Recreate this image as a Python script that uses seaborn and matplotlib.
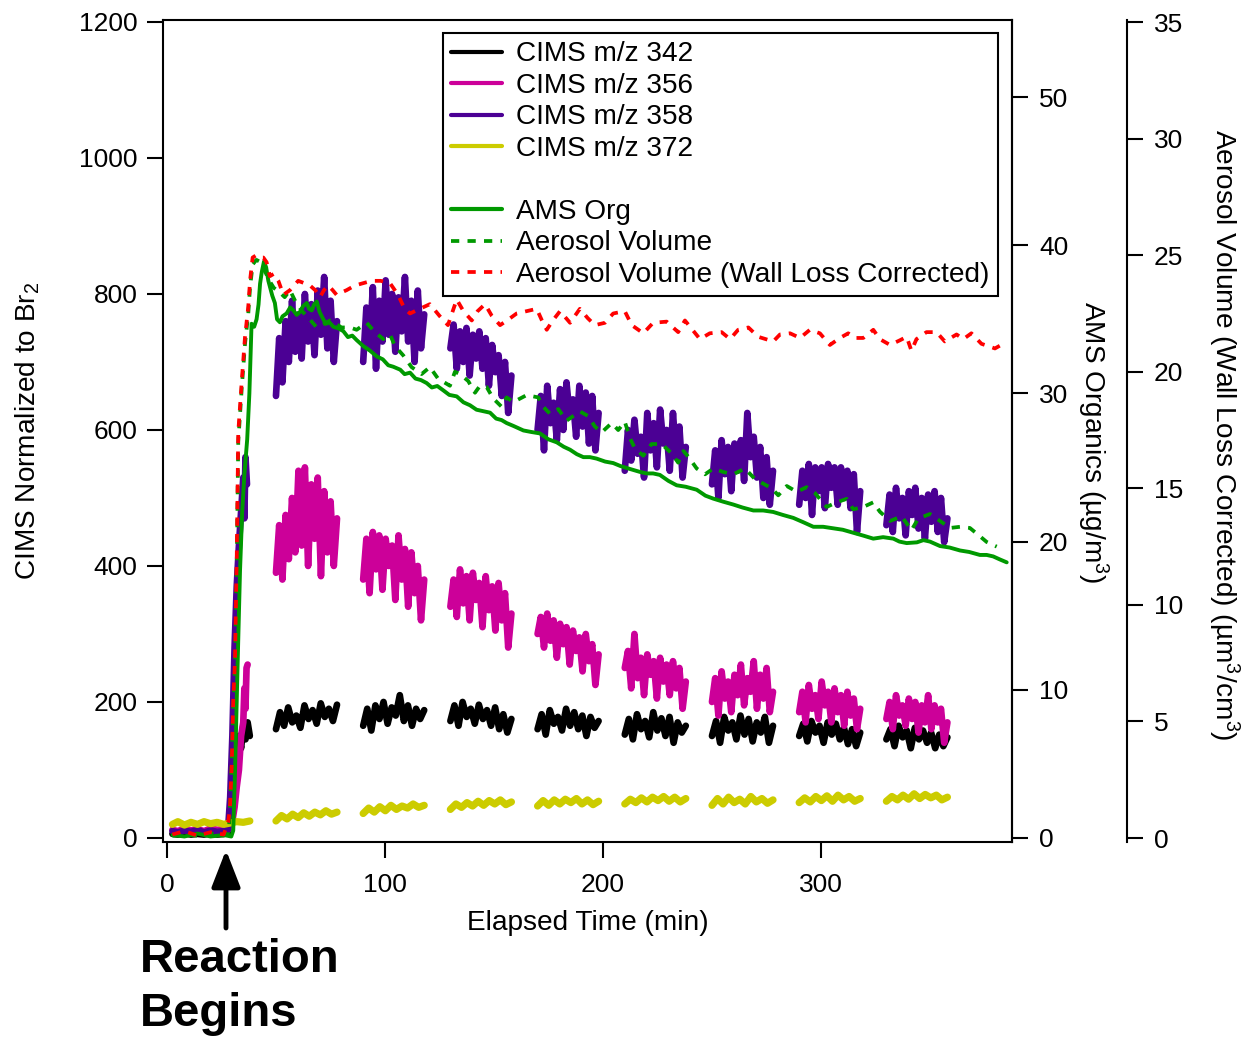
import numpy as np
import pandas as pd
import matplotlib
matplotlib.use("Agg")
import matplotlib.pyplot as plt
from matplotlib.lines import Line2D
import seaborn as sns

# ---------------- data ----------------
series_names = ["CIMS m/z 342", "CIMS m/z 356", "CIMS m/z 358", "CIMS m/z 372"]
seg_starts = [50, 90, 130, 170, 210, 250, 290, 330]
seg_len = 28

# before / during the reaction start
t_early_342 = [2.5, 5, 8, 11, 14, 17, 20, 23, 26, 28, 29, 30, 31, 32, 33, 34, 35, 36, 37, 38]
v_early_342 = [6, 5, 7, 5, 6, 5, 7, 5, 6, 8, 20, 50, 90, 125, 150, 132, 165, 145, 170, 150]
t_early_356 = [2.5, 5, 8, 11, 14, 17, 20, 23, 26, 28, 29, 30, 31, 32, 33, 34, 35, 35.5, 36, 36.5, 37]
v_early_356 = [12, 10, 14, 11, 13, 10, 14, 12, 13, 12, 15, 25, 45, 75, 100, 150, 170, 220, 190, 250, 255]
t_early_358 = [2.5, 5, 8, 11, 14, 17, 20, 23, 26, 28, 29, 30, 31, 32, 33, 34, 35, 35.5, 36, 36.7]
v_early_358 = [10, 8, 11, 9, 12, 8, 11, 9, 10, 12, 60, 150, 280, 370, 430, 480, 530, 470, 560, 520]
t_early_372 = [2.5, 5, 8, 11, 14, 17, 20, 23, 26, 29, 32, 35, 38]
v_early_372 = [20, 24, 19, 23, 20, 24, 21, 23, 20, 22, 24, 23, 25]

# sampling periods (one list of readings per period)
segs_342 = [
    [160, 185, 165, 192, 170, 180, 162, 195, 175, 188, 168, 198, 178, 190, 172, 196],
    [165, 190, 158, 195, 175, 200, 168, 192, 180, 210, 172, 195, 165, 190, 175, 188],
    [172, 195, 165, 200, 178, 190, 168, 196, 175, 188, 165, 192, 160, 182, 155, 175],
    [160, 182, 152, 188, 168, 178, 158, 190, 165, 185, 160, 180, 150, 178, 162, 172],
    [152, 175, 145, 182, 160, 172, 148, 185, 158, 176, 150, 178, 140, 170, 155, 165],
    [150, 172, 140, 178, 158, 170, 145, 180, 152, 175, 142, 170, 155, 178, 140, 165],
    [150, 168, 142, 172, 155, 165, 140, 170, 152, 168, 145, 162, 138, 160, 135, 155],
    [145, 160, 135, 165, 148, 158, 132, 162, 145, 158, 140, 155, 132, 152, 135, 148],
]
segs_356 = [
    [390, 460, 380, 475, 410, 500, 420, 540, 430, 545, 400, 520, 440, 530, 385, 510, 420, 495, 400, 470],
    [380, 440, 360, 450, 395, 445, 365, 440, 400, 430, 350, 445, 380, 425, 340, 420, 360, 400, 320, 380],
    [340, 380, 325, 395, 345, 385, 320, 390, 350, 375, 310, 385, 335, 370, 305, 375, 320, 360, 280, 330],
    [300, 325, 280, 330, 290, 320, 265, 315, 285, 310, 255, 305, 275, 295, 245, 300, 260, 285, 225, 270],
    [250, 275, 220, 300, 235, 265, 210, 270, 240, 260, 205, 265, 230, 255, 210, 260, 220, 250, 190, 230],
    [200, 235, 180, 245, 205, 230, 185, 240, 210, 255, 195, 235, 215, 260, 190, 240, 205, 250, 185, 215],
    [185, 215, 170, 225, 190, 210, 175, 230, 195, 215, 170, 220, 185, 210, 165, 215, 180, 205, 160, 190],
    [175, 200, 160, 210, 180, 195, 165, 205, 175, 200, 155, 195, 170, 210, 160, 195, 170, 190, 140, 170],
]
segs_358 = [
    [650, 735, 670, 760, 700, 790, 715, 770, 705, 800, 730, 785, 710, 805, 740, 825, 720, 790, 700, 760],
    [700, 780, 720, 810, 690, 790, 730, 820, 740, 800, 715, 795, 745, 825, 730, 790, 700, 805, 720, 770],
    [720, 755, 690, 745, 700, 750, 680, 740, 705, 745, 690, 735, 665, 725, 685, 710, 650, 700, 625, 680],
    [600, 650, 570, 665, 610, 640, 585, 660, 600, 670, 620, 645, 590, 665, 605, 655, 580, 650, 570, 625],
    [540, 600, 555, 615, 565, 590, 530, 625, 570, 610, 545, 630, 580, 600, 540, 625, 560, 605, 530, 575],
    [520, 570, 500, 585, 535, 575, 510, 580, 540, 585, 525, 625, 560, 590, 530, 575, 500, 560, 490, 540],
    [490, 540, 500, 550, 475, 545, 510, 545, 485, 550, 515, 545, 490, 545, 500, 540, 485, 535, 450, 510],
    [460, 505, 450, 515, 470, 500, 445, 510, 475, 515, 455, 500, 440, 505, 465, 510, 450, 500, 435, 470],
]
segs_372 = [
    [25, 33, 28, 35, 30, 37, 32, 38, 34, 40, 35, 38],
    [36, 44, 38, 46, 40, 48, 42, 47, 44, 50, 45, 48],
    [42, 50, 45, 52, 47, 54, 48, 55, 50, 56, 49, 53],
    [47, 55, 48, 56, 50, 57, 52, 58, 50, 56, 49, 54],
    [50, 57, 52, 59, 53, 60, 55, 61, 54, 60, 53, 58],
    [48, 58, 50, 60, 52, 57, 50, 61, 53, 58, 51, 56],
    [52, 59, 53, 61, 55, 62, 54, 63, 56, 61, 54, 58],
    [54, 61, 56, 63, 57, 65, 58, 64, 59, 63, 56, 60],
]

# AMS organics (ug/m3)
t_ams = [2.5, 8, 14, 20, 26, 29.5, 30.4, 31.2, 32.3, 33.5, 34.5, 35.5, 36.8, 37.8, 38.8, 40, 41.1, 42,
         42.7, 43.5, 44.5, 45.5, 46.5, 47.2, 48.3, 49.5, 50.5, 51.8, 53, 54.9, 56.5, 58, 59.5, 61, 62.5,
         64.1, 65.2, 66.4, 67.5, 68.7, 70, 71.7, 73, 74.5, 76.3, 78.5, 80.9, 83, 85, 87, 90, 93, 96.2,
         99, 101.5, 103.8, 107, 109, 111.5, 114, 116.5, 119.1, 121.5, 124, 126.8, 129.5, 132.9, 136,
         139, 142, 145, 148.2, 151, 153.5, 155.8, 159, 163.5, 167, 171.1, 175, 178.8, 182, 184.9, 188,
         191, 194, 197.1, 201, 204.7, 208, 212.4, 217, 220, 223, 226.1, 230, 233.8, 238, 243, 247,
         250.6, 255, 259.8, 264, 269, 273.5, 278.1, 282.5, 287.3, 292, 296.5, 301, 305.6, 310, 314.8,
         319.5, 324, 328.5, 333.2, 336, 339.3, 344, 347, 350, 354.6, 359, 363.8, 368, 372.9, 376, 379,
         382, 385.2]
v_ams = [0.2, 0.1, 0.3, 0.1, 0.2, 0.1, 0.5, 4.4, 11.1, 18.0, 22.0, 24.5, 26.9, 30.0, 34.7, 34.5, 35.0, 36.0,
         37.4, 38.2, 38.9, 38.5, 37.6, 37.2, 36.6, 36.1, 35.0, 34.8, 35.2, 35.4, 35.8, 35.6, 35.3, 35.5, 35.9,
         36.1, 35.7, 35.6, 36.0, 36.2, 35.5, 35.0, 34.7, 34.8, 34.5, 34.4, 34.2, 33.8, 33.9, 33.6, 33.2, 32.9, 32.5,
         32.3, 31.9, 31.8, 31.6, 31.3, 31.4, 31.0, 30.9, 30.7, 30.4, 30.5, 30.2, 29.9, 29.8, 29.4,
         29.2, 28.9, 28.8, 28.7, 28.3, 28.2, 28.0, 27.8, 27.5, 27.4, 27.3, 26.9, 26.7, 26.4, 26.2, 25.9,
         25.7, 25.7, 25.6, 25.4, 25.3, 25.1, 24.9, 24.7, 24.6, 24.6, 24.5, 24.1, 23.8, 23.7, 23.5, 23.1,
         22.9, 22.7, 22.5, 22.3, 22.1, 22.1, 22.0, 21.8, 21.6, 21.3, 21.0, 21.0, 20.9, 20.8, 20.6,
         20.4, 20.2, 20.3, 20.2, 20.0, 19.9, 19.95, 20.1, 20.0, 19.7, 19.6, 19.4, 19.3, 19.1, 19.1, 19.0,
         18.8, 18.6]

# Aerosol volume (um3/cm3)
t_vol = [2.5, 8, 14, 20, 26, 28, 28.5, 29.5, 30.4, 31.2, 32, 32.7, 34.3, 35.8, 37.3, 38.1, 39.3, 41, 43,
         45, 47, 49, 51.8, 54, 56.4, 59, 62, 65, 68.7, 71, 74.8, 77, 80, 84, 87, 91.6, 95.4, 99.2, 102.3,
         104.6, 108.4, 112.2, 116.8, 120.6, 124.4, 129.8, 132.1, 134.4, 138.2, 141.3, 143.6, 146.6, 149.7,
         153.5, 155.8, 158.9, 165, 170.3, 172.6, 175.7, 179.5, 183.3, 189.4, 193.2, 196.3, 199.4, 204, 207,
         210, 212.4, 214.7, 218.5, 222.3, 226.9, 231.5, 234.5, 236.9, 239.2, 243, 246.8, 250.6, 255.2,
         259.8, 265.1, 269.7, 273.5, 277.4, 280.4, 284.3, 288.9, 293.4, 297.2, 302.6, 307.2, 311.8, 314.8,
         319.4, 324, 327, 331.7, 337, 341.5, 344.6, 350, 354.6, 359.2, 363.8, 368.3, 372.2, 376, 380.6]
v_vol = [0.1, 0.15, 0.1, 0.2, 0.1, 0.2, 0.5, 2.8, 5.6, 7.3, 11.5, 17.0, 19.3, 21.2, 22.5, 23.6, 24.6, 24.8, 24.7,
         24.3, 23.9, 23.6, 23.4, 23.2, 23.5, 23.0, 22.6, 22.3, 21.9, 22.0, 22.2, 22.1, 21.9, 21.9, 21.8, 22.1, 21.7, 21.4, 21.6,
         21.1, 20.7, 20.2, 19.9, 20.2, 19.7, 19.4, 20.0, 19.9, 19.6, 19.1, 19.4, 19.35, 18.85,
         18.5, 18.9, 18.7, 19.0, 18.9, 18.5, 18.2, 18.4, 17.9, 18.3, 18.1, 17.65, 17.4, 17.8, 17.5,
         17.86, 17.15, 16.7, 16.4, 16.9, 16.9, 16.5, 16.1, 16.6, 16.35, 15.85, 15.6, 15.85, 15.7,
         15.6, 15.85, 15.4, 15.2, 15.0, 14.7, 15.1, 14.85, 15.05, 14.8, 14.2, 14.4, 14.55, 14.1,
         14.2, 14.4, 14.0, 13.6, 13.8, 13.2, 13.7, 13.9, 13.6, 13.3, 13.35, 13.3, 13.0, 12.7, 12.5]

# Aerosol volume, wall loss corrected (um3/cm3)
t_wlc = [2.5, 8, 14, 20, 26, 28.1, 28.9, 29.7, 30.4, 31.2, 32, 32.7, 34.3, 35.8, 37.3, 38.1, 39.3, 41, 42.5,
         44.2, 45.7, 47.2, 49, 51.1, 53.4, 56.4, 60.2, 63, 65.6, 68, 70.2, 72, 74, 76, 77.8, 80, 82.4, 86.2,
         90, 93.9, 98, 102.3, 106, 109, 111.5, 116, 120.6, 125, 128.9, 132.9, 136, 139.8, 142.5, 145.9,
         149, 152.8, 156, 160.4, 165, 169.6, 172, 174.2, 177, 180.3, 184.9, 189.4, 193, 196.3, 200.9,
         204.7, 210, 213.2, 218.5, 223, 229.2, 234.5, 237.6, 244.5, 249, 254.4, 258.3, 262, 266.7,
         271.2, 278.1, 281.2, 285.8, 290.4, 294.9, 299.5, 304.1, 308.7, 312.5, 315.6, 319.4, 324, 327,
         331.7, 336.2, 339.3, 341.5, 343.8, 348.4, 353, 356.8, 362.2, 365.3, 369, 373.6, 379.8, 383.6]
v_wlc = [0.15, 0.3, 0.1, 0.25, 0.15, 0.7, 1.3, 3.1, 5.9, 7.6, 12.0, 17.4, 19.6, 21.5, 22.8, 23.9, 24.9, 25.0, 24.9,
         24.9, 24.7, 24.1, 24.2, 23.9, 23.3, 23.5, 23.9, 23.8, 23.7, 23.5, 23.2, 23.5, 23.7, 23.5, 23.3, 23.4, 23.5, 23.7,
         23.8, 23.9, 23.9, 23.8, 23.3, 22.7, 22.5, 22.7, 22.9, 22.4, 22.0, 23.1, 22.6, 22.2, 22.6, 22.9,
         22.4, 22.0, 22.2, 22.5, 22.6, 22.7, 22.2, 21.8, 22.2, 22.6, 22.1, 22.7, 22.3, 22.0, 22.1,
         22.5, 22.6, 22.0, 21.65, 22.1, 22.15, 21.7, 22.2, 21.4, 21.65, 21.7, 21.4, 21.8, 21.9,
         21.5, 21.3, 21.6, 21.65, 21.45, 21.8, 21.65, 21.15, 21.45, 21.65, 21.45, 21.45, 21.8, 21.4,
         21.15, 21.35, 21.5, 20.9, 21.4, 21.7, 21.7, 21.3, 21.6, 21.4, 21.65, 21.2, 21.0, 21.2]

# ---------------- styling ----------------
sns.set_style("ticks")
plt.rcParams["font.family"] = ["Liberation Sans", "DejaVu Sans"]
plt.rcParams["mathtext.fontset"] = "custom"
plt.rcParams["mathtext.rm"] = "Liberation Sans"
plt.rcParams["mathtext.it"] = "Liberation Sans:italic"
plt.rcParams["mathtext.bf"] = "Liberation Sans:bold"
plt.rcParams["mathtext.default"] = "regular"
for key in ["text.color", "axes.labelcolor", "xtick.color", "ytick.color", "axes.edgecolor"]:
    plt.rcParams[key] = "black"

colors = {
    "CIMS m/z 342": "#000000",
    "CIMS m/z 356": "#CC0099",
    "CIMS m/z 358": "#4B0094",
    "CIMS m/z 372": "#CCCC00",
}
c_ams = "#009900"
c_wlc = "#FF0000"
FS_TICK = 19
FS_LAB = 20.2
DOT = (0, (2.2, 2.2))


def cims_frame(name, t_early, v_early, segs):
    parts = [pd.DataFrame({"time": t_early, "value": v_early, "unit": 0})]
    for i, (s, vals) in enumerate(zip(seg_starts, segs), start=1):
        parts.append(pd.DataFrame({"time": np.linspace(s, s + seg_len, len(vals)),
                                   "value": vals, "unit": i}))
    df = pd.concat(parts, ignore_index=True)
    df["series"] = name
    return df


cims = pd.concat([
    cims_frame("CIMS m/z 342", t_early_342, v_early_342, segs_342),
    cims_frame("CIMS m/z 356", t_early_356, v_early_356, segs_356),
    cims_frame("CIMS m/z 358", t_early_358, v_early_358, segs_358),
    cims_frame("CIMS m/z 372", t_early_372, v_early_372, segs_372),
], ignore_index=True)

fig = plt.figure(figsize=(12.47, 10.40), dpi=100)
ax = fig.add_axes([0.1307, 0.1904, 0.6808, 0.7904])
ax2 = ax.twinx()
ax3 = ax.twinx()

lw_cims = {"CIMS m/z 342": 4.8, "CIMS m/z 356": 4.8, "CIMS m/z 358": 4.8, "CIMS m/z 372": 5.2}
for name in series_names:
    sns.lineplot(data=cims[cims["series"] == name], x="time", y="value", units="unit",
                 estimator=None, sort=False, color=colors[name], lw=lw_cims[name],
                 ax=ax, legend=False)

sns.lineplot(x=t_ams, y=v_ams, ax=ax2, color=c_ams, lw=2.8, estimator=None, sort=False)
sns.lineplot(x=t_vol, y=v_vol, ax=ax3, color=c_ams, lw=2.7, estimator=None, sort=False,
             linestyle=DOT)
sns.lineplot(x=t_wlc, y=v_wlc, ax=ax3, color=c_wlc, lw=2.7, estimator=None, sort=False,
             linestyle=DOT)

# limits
ax.set_xlim(-1.83, 387.6)
ax.set_ylim(-5.9, 1202.9)
ax2.set_ylim(-0.27, 55.2)
ax3.set_ylim(-0.17, 35.09)

ax.set_xticks([0, 100, 200, 300])
ax.set_yticks([0, 200, 400, 600, 800, 1000, 1200])
ax2.set_yticks([0, 10, 20, 30, 40, 50])
ax3.set_yticks([0, 5, 10, 15, 20, 25, 30, 35])

# spines
for s in ax.spines.values():
    s.set_linewidth(1.5)
    s.set_color("black")
for s in ["left", "top", "bottom"]:
    ax2.spines[s].set_visible(False)
    ax3.spines[s].set_visible(False)
ax2.spines["right"].set_linewidth(1.5)
ax3.spines["right"].set_linewidth(1.5)
ax3.spines["right"].set_position(("axes", 1.1355))

ax.tick_params(axis="y", direction="out", length=11.5, width=1.5, labelsize=FS_TICK, pad=7)
ax.tick_params(axis="x", direction="out", length=11.5, width=1.5, labelsize=FS_TICK, pad=11)
ax.tick_params(top=False, right=False)
ax2.tick_params(axis="y", direction="out", length=11.5, width=1.5, labelsize=FS_TICK, pad=8)
ax3.tick_params(axis="y", direction="out", length=11.5, width=1.5, labelsize=FS_TICK, pad=8)

# labels
ax.set_xlabel("Elapsed Time (min)", fontsize=FS_LAB)
ax.xaxis.set_label_coords(0.501, -0.083)
ax.set_ylabel("CIMS Normalized to Br$_{2}$", fontsize=FS_LAB)
ax.yaxis.set_label_coords(-0.1425, 0.5)
ax2.set_ylabel("AMS Organics (µg/m$^{3}$)", fontsize=FS_LAB, rotation=270, va="bottom")
ax2.yaxis.set_label_coords(1.0745, 0.487)
ax3.set_ylabel("Aerosol Volume (Wall Loss Corrected) (µm$^{3}$/cm$^{3}$)", fontsize=FS_LAB,
               rotation=270, va="bottom")
ax3.yaxis.set_label_coords(1.2285, 0.495)

# legend
blank = Line2D([], [], color="none")
handles = [Line2D([], [], color=colors[n], lw=3) for n in series_names]
handles += [blank,
            Line2D([], [], color=c_ams, lw=3),
            Line2D([], [], color=c_ams, lw=2.7, linestyle=DOT),
            Line2D([], [], color=c_wlc, lw=2.7, linestyle=DOT)]
labels = series_names + [" ", "AMS Org", "Aerosol Volume", "Aerosol Volume (Wall Loss Corrected)"]
leg = ax3.legend(handles, labels, loc="upper left",
                 bbox_to_anchor=(443 / 1247, 1 - 33 / 1040), bbox_transform=fig.transFigure,
                 fontsize=FS_LAB, frameon=True, fancybox=False, edgecolor="black", framealpha=1,
                 borderpad=0.3, labelspacing=0.196, handlelength=1.8, handletextpad=0.5,
                 borderaxespad=0)
leg.get_frame().set_linewidth(1.5)

# annotation
ax.annotate("", xy=(226, 1040 - 850), xytext=(226, 1040 - 928), xycoords="figure pixels",
            textcoords="figure pixels",
            arrowprops=dict(arrowstyle="-|>,head_width=0.35,head_length=0.9", lw=3.5, color="black",
                            mutation_scale=25, shrinkA=0, shrinkB=0))
fig.text(140 / 1247, 1 - 938 / 1040, "Reaction\nBegins", fontsize=34, fontweight="bold",
         ha="left", va="top", linespacing=1.3)

fig.savefig("out.png", dpi=100)
